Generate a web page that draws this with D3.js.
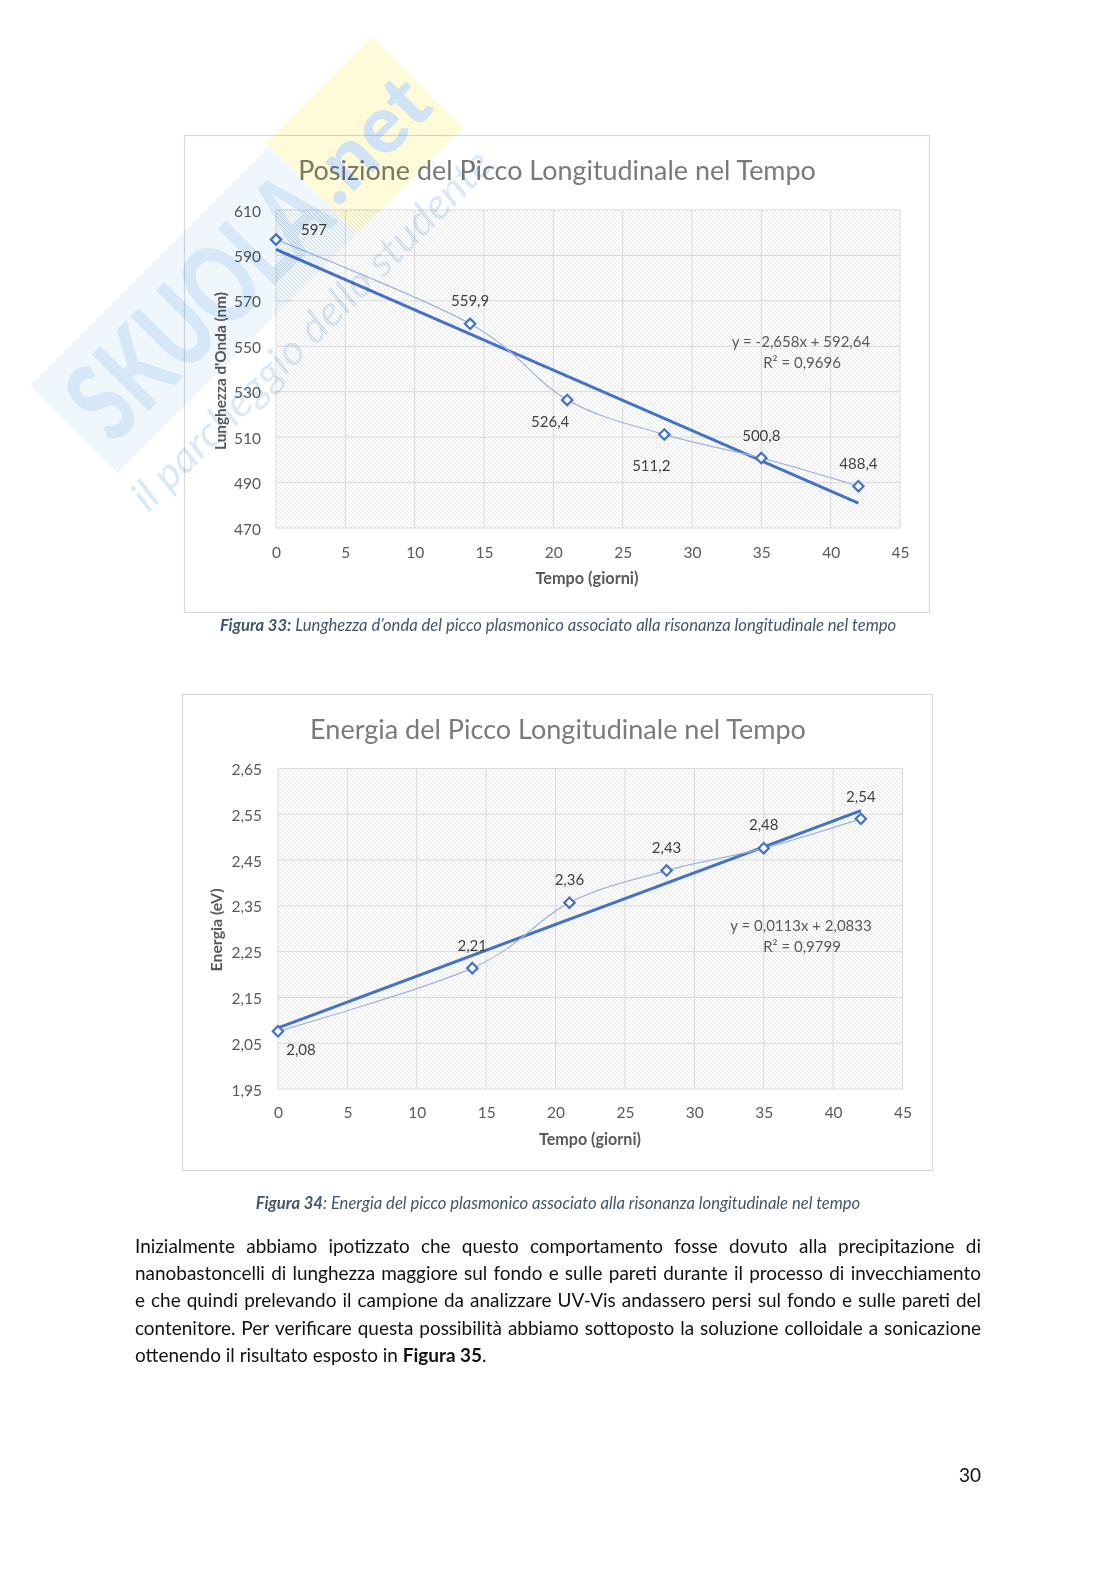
<!DOCTYPE html>
<html><head><meta charset="utf-8">
<script src="https://cdn.jsdelivr.net/npm/d3@7"></script>
<style>html,body{margin:0;padding:0;background:#fff}svg{display:block}</style>
</head><body>
<script>
// ---------------- DATA ----------------
const days = [0, 14, 21, 28, 35, 42];
const wavelength = [597, 559.9, 526.4, 511.2, 500.8, 488.4];
const energy = [2.076, 2.214, 2.357, 2.427, 2.476, 2.54];
const xTicks = [0, 5, 10, 15, 20, 25, 30, 35, 40, 45];
const wavelengthTicks = [470, 490, 510, 530, 550, 570, 590, 610];
const energyTicks = [1.95, 2.05, 2.15, 2.25, 2.35, 2.45, 2.55, 2.65];
const wavelengthTrend = [-2.658, 592.64];   // slope, intercept
const energyTrend = [0.0113, 2.0833];
const wavelengthR2 = "0,9696";
const energyR2 = "0,9799";
const titles = ["Posizione del Picco Longitudinale nel Tempo", "Energia del Picco Longitudinale nel Tempo"];
const yTitles = ["Lunghezza d'Onda (nm)", "Energia (eV)"];
const xTitle = "Tempo (giorni)";
const captions = [
  ["Figura 33:", " Lunghezza d\u2019onda del picco plasmonico associato alla risonanza longitudinale nel tempo"],
  ["Figura 34", ": Energia del picco plasmonico associato alla risonanza longitudinale nel tempo"]
];
const paragraph = [
  "Inizialmente abbiamo ipotizzato che questo comportamento fosse dovuto alla precipitazione di",
  "nanobastoncelli di lunghezza maggiore sul fondo e sulle pareti durante il processo di invecchiamento",
  "e che quindi prelevando il campione da analizzare UV-Vis andassero persi sul fondo e sulle pareti del",
  "contenitore. Per verificare questa possibilità abbiamo sottoposto la soluzione colloidale a sonicazione"
];
const lastLine = ["ottenendo il risultato esposto in ", "Figura 35", "."];
const pageNumber = "30";

// ---------------- LAYOUT ----------------
const W = 1116, H = 1579;
const FONT = "Lato, 'Open Sans', 'DejaVu Sans', sans-serif";
const comma = s => String(s).replace(".", ",");

const svg = d3.select("body").append("svg").attr("width", W).attr("height", H)
  .style("font-family", FONT);
const defs = svg.append("defs");
const pat = defs.append("pattern").attr("id", "hatch").attr("patternUnits", "userSpaceOnUse")
  .attr("width", 4).attr("height", 4);
pat.append("rect").attr("width", 4).attr("height", 4).attr("fill", "#fff");
pat.append("path").attr("d", "M-1,-1L5,5M-1,3L1,5M3,-1L5,1")
  .attr("stroke", "#d4d4d4").attr("stroke-width", 0.6);

function fitWidth(sel, w) {
  const node = sel.node();
  const fs = parseFloat(sel.attr("font-size"));
  const len = node.getComputedTextLength();
  if (len > 0) sel.attr("font-size", fs * w / len);
  return sel;
}

const charts = [
  {
    y: wavelength, ticks: wavelengthTicks, trend: wavelengthTrend, r2: wavelengthR2,
    title: titles[0], yTitle: yTitles[0], fmtTick: d => String(d), fmtLabel: d => comma(d),
    box: [184, 135, 929, 612], plot: [276, 210, 900, 528],
    titlePos: [557, 169, 518], xTitlePos: [587, 577, 103], yTitlePos: [220, 371, 158],
    eqPos: [801, 341], yLabelX: 261, xLabelY: 552,
    labelOff: [[38, -11], [0, -24], [-17, 21], [-13, 31], [0, -23], [0, -23]]
  },
  {
    y: energy, ticks: energyTicks, trend: energyTrend, r2: energyR2,
    title: titles[1], yTitle: yTitles[1], fmtTick: d => comma(d.toFixed(2)), fmtLabel: d => comma(d.toFixed(2)),
    box: [182, 694, 932, 1170], plot: [278, 768.5, 902.5, 1089],
    titlePos: [558, 728, 496], xTitlePos: [590, 1138, 102], yTitlePos: [215.5, 930, 83],
    eqPos: [801, 925], yLabelX: 262, xLabelY: 1112,
    labelOff: [[23, 18], [0, -23], [0, -24], [0, -24], [0, -24], [0, -23]]
  }
];

charts.forEach(c => {
  const [bx0, by0, bx1, by1] = c.box;
  const [px0, py0, px1, py1] = c.plot;
  const g = svg.append("g");
  g.append("rect").attr("x", bx0 + 0.5).attr("y", by0 + 0.5).attr("width", bx1 - bx0).attr("height", by1 - by0)
    .attr("fill", "#fff").attr("stroke", "#d9d9d9").attr("stroke-width", 1.2);

  const x = d3.scaleLinear().domain([xTicks[0], xTicks[xTicks.length - 1]]).range([px0, px1]);
  const y = d3.scaleLinear().domain([c.ticks[0], c.ticks[c.ticks.length - 1]]).range([py1, py0]);

  g.append("rect").attr("x", px0).attr("y", py0).attr("width", px1 - px0).attr("height", py1 - py0)
    .attr("fill", "url(#hatch)");

  g.append("g").selectAll("line").data(c.ticks).join("line")
    .attr("x1", px0).attr("x2", px1).attr("y1", d => y(d)).attr("y2", d => y(d))
    .attr("stroke", "#d9d9d9").attr("stroke-width", 1);
  g.append("g").selectAll("line").data(xTicks).join("line")
    .attr("y1", py0).attr("y2", py1).attr("x1", d => x(d)).attr("x2", d => x(d))
    .attr("stroke", "#d9d9d9").attr("stroke-width", 1);

  const ya = g.append("g").attr("transform", `translate(${px0},0)`)
    .call(d3.axisLeft(y).tickValues(c.ticks).tickSize(0).tickPadding(px0 - c.yLabelX).tickFormat(c.fmtTick));
  ya.select(".domain").remove();
  ya.selectAll("text").attr("font-size", 15.5).attr("font-family", FONT).attr("fill", "#595959")
    .attr("dy", null).attr("dominant-baseline", "central");

  const xa = g.append("g").attr("transform", `translate(0,${py1})`)
    .call(d3.axisBottom(x).tickValues(xTicks).tickSize(0).tickFormat(d => String(d)));
  xa.select(".domain").remove();
  xa.selectAll("text").attr("font-size", 15.5).attr("font-family", FONT).attr("fill", "#595959")
    .attr("y", c.xLabelY - py1).attr("dy", null).attr("dominant-baseline", "central");

  fitWidth(g.append("text").attr("x", c.titlePos[0]).attr("y", c.titlePos[1]).attr("text-anchor", "middle")
    .attr("dominant-baseline", "central").attr("font-size", 25).attr("fill", "#7a7a7a")
    .text(c.title), c.titlePos[2]);

  fitWidth(g.append("text").attr("x", c.xTitlePos[0]).attr("y", c.xTitlePos[1]).attr("text-anchor", "middle")
    .attr("dominant-baseline", "central").attr("font-size", 15).attr("font-weight", 700).attr("fill", "#595959")
    .text(xTitle), c.xTitlePos[2]);
  fitWidth(g.append("text").attr("transform", `translate(${c.yTitlePos[0]},${c.yTitlePos[1]}) rotate(-90)`)
    .attr("text-anchor", "middle").attr("dominant-baseline", "central").attr("font-size", 15)
    .attr("font-weight", 700).attr("fill", "#595959").text(c.yTitle), c.yTitlePos[2]);

  const tx = d3.extent(days);
  g.append("line").attr("x1", x(tx[0])).attr("y1", y(c.trend[0] * tx[0] + c.trend[1]))
    .attr("x2", x(tx[1])).attr("y2", y(c.trend[0] * tx[1] + c.trend[1]))
    .attr("stroke", "#4472C4").attr("stroke-width", 3).attr("stroke-linecap", "butt");

  const pts = days.map((d, i) => [d, c.y[i]]);
  g.append("path").datum(pts)
    .attr("d", d3.line().x(d => x(d[0])).y(d => y(d[1])).curve(d3.curveCatmullRom.alpha(0)))
    .attr("fill", "none").attr("stroke", "#9fb3dc").attr("stroke-width", 1.2);

  g.append("g").selectAll("path").data(pts).join("path")
    .attr("transform", d => `translate(${x(d[0])},${y(d[1])}) rotate(45)`)
    .attr("d", d3.symbol(d3.symbolSquare, 54)())
    .attr("fill", "#fff").attr("stroke", "#4472C4").attr("stroke-width", 2.2);

  g.append("g").selectAll("text").data(pts).join("text")
    .attr("x", (d, i) => x(d[0]) + c.labelOff[i][0])
    .attr("y", (d, i) => y(d[1]) + c.labelOff[i][1])
    .attr("text-anchor", "middle").attr("dominant-baseline", "central")
    .attr("font-size", 15).attr("fill", "#404040").text(d => c.fmtLabel(d[1]));

  const sign = c.trend[1] >= 0 ? "+" : "-";
  g.append("text").attr("x", c.eqPos[0]).attr("y", c.eqPos[1]).attr("text-anchor", "middle")
    .attr("dominant-baseline", "central").attr("font-size", 15).attr("fill", "#595959")
    .text(`y = ${comma(c.trend[0])}x ${sign} ${comma(Math.abs(c.trend[1]))}`);
  g.append("text").attr("x", c.eqPos[0] + 1).attr("y", c.eqPos[1] + 20.5).attr("text-anchor", "middle")
    .attr("dominant-baseline", "central").attr("font-size", 15).attr("fill", "#595959")
    .text(`R\u00B2 = ${c.r2}`);
});

// ---------------- CAPTIONS ----------------
const capPos = [[558, 624.5, 677], [558, 1202.5, 605]];
captions.forEach((cap, i) => {
  const t = svg.append("text").attr("x", capPos[i][0]).attr("y", capPos[i][1]).attr("text-anchor", "middle")
    .attr("dominant-baseline", "central").attr("font-size", 15).attr("font-style", "italic").attr("fill", "#44546A");
  t.append("tspan").attr("font-weight", 700).text(cap[0]);
  t.append("tspan").text(cap[1]);
  fitWidth(t, capPos[i][2]);
});

// ---------------- PARAGRAPH ----------------
const pLeft = 135, pRight = 981, pY = [1245, 1272, 1299, 1326.5, 1354];
let pSize = 19;
const meas = svg.append("text").attr("font-size", pSize).attr("x", -1000).attr("y", -1000);
const natural = paragraph.map(l => { meas.text(l); return meas.node().getComputedTextLength(); });
const maxNat = d3.max(natural);
if (maxNat > (pRight - pLeft) * 0.985) pSize = pSize * (pRight - pLeft) * 0.985 / maxNat;
meas.attr("font-size", pSize);
paragraph.forEach((line, li) => {
  const words = line.split(" ");
  const widths = words.map(w => { meas.text(w); return meas.node().getComputedTextLength(); });
  const gap = (pRight - pLeft - d3.sum(widths)) / (words.length - 1);
  const t = svg.append("text").attr("y", pY[li]).attr("dominant-baseline", "central")
    .attr("font-size", pSize).attr("fill", "#111");
  let cx = pLeft;
  words.forEach((w, wi) => {
    t.append("tspan").attr("x", cx).text(w);
    cx += widths[wi] + gap;
  });
});
meas.remove();
const ll = svg.append("text").attr("x", pLeft).attr("y", pY[4]).attr("dominant-baseline", "central")
  .attr("font-size", pSize).attr("fill", "#111");
ll.append("tspan").text(lastLine[0]);
ll.append("tspan").attr("font-weight", 700).text(lastLine[1]);
ll.append("tspan").text(lastLine[2]);

svg.append("text").attr("x", 970).attr("y", 1474.5).attr("text-anchor", "middle").attr("dominant-baseline", "central")
  .attr("font-size", 19).attr("fill", "#111").text(pageNumber);

// ---------------- WATERMARK ----------------
const wm = svg.append("g").attr("transform", "translate(245,258) rotate(-45)")
  .style("opacity", 0.42).style("mix-blend-mode", "multiply").attr("pointer-events", "none");
wm.append("rect").attr("x", -242).attr("y", -62).attr("width", 338).attr("height", 124).attr("fill", "#d8e9f7");
wm.append("rect").attr("x", 96).attr("y", -66).attr("width", 150).attr("height", 128).attr("fill", "#fff2a0");
wm.append("text").attr("x", -226).attr("y", 40).attr("font-size", 110).attr("font-weight", 900)
  .attr("fill", "#9cc8ec").attr("textLength", 318).attr("lengthAdjust", "spacingAndGlyphs").text("SKUOLA");
wm.append("text").attr("x", 100).attr("y", 30).attr("font-size", 80).attr("font-weight", 900)
  .attr("fill", "#8dbbe6").attr("textLength", 140).attr("lengthAdjust", "spacingAndGlyphs").text(".net");
wm.append("text").attr("x", -249).attr("y", 112).attr("font-size", 42).attr("font-style", "italic")
  .attr("fill", "#a9cbeb").attr("textLength", 490).attr("lengthAdjust", "spacingAndGlyphs")
  .text("il parcheggio dello studente");
</script>
</body></html>
